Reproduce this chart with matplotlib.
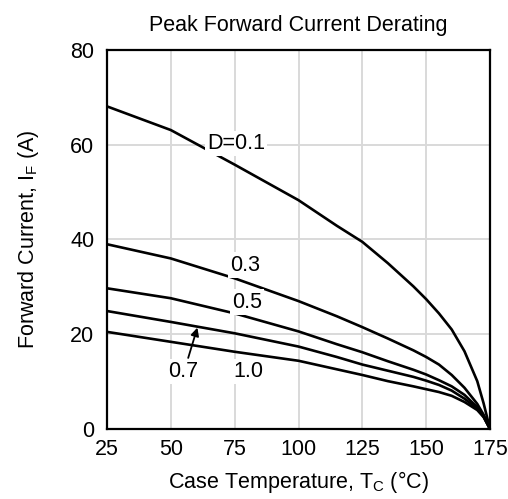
import numpy as np
import matplotlib
matplotlib.use("Agg")
import matplotlib.pyplot as plt

plt.rcParams['font.family'] = ['Liberation Sans', 'DejaVu Sans']
plt.rcParams['mathtext.fontset'] = 'custom'
plt.rcParams['mathtext.rm'] = 'Liberation Sans'
plt.rcParams['mathtext.it'] = 'Liberation Sans'

# case temperature (degC)
temp = [25, 50, 75, 100, 115, 125, 135, 145, 150, 155, 160, 165, 170, 172.5, 175]

# peak forward current (A) for each duty cycle
d01 = [68.1, 63.1, 55.8, 48.3, 42.9, 39.5, 35.0, 30.1, 27.4, 24.4, 21.0, 16.4, 10.1, 5.4, 0]
d03 = [39.0, 36.0, 31.8, 27.0, 23.8, 21.5, 19.1, 16.6, 15.2, 13.6, 11.4, 8.7, 5.3, 3.0, 0]
d05 = [29.7, 27.6, 24.4, 20.6, 17.9, 16.2, 14.3, 12.5, 11.5, 10.3, 9.0, 7.2, 4.6, 2.7, 0]
d07 = [24.9, 22.6, 20.2, 17.4, 15.2, 13.6, 12.3, 11.0, 10.2, 9.3, 8.1, 6.4, 4.3, 2.6, 0]
d10 = [20.5, 18.4, 16.3, 14.4, 12.6, 11.4, 10.1, 9.0, 8.4, 7.8, 7.0, 5.7, 4.0, 2.5, 0]

xticks = [25, 50, 75, 100, 125, 150, 175]
yticks = [0, 20, 40, 60, 80]

fig = plt.figure(figsize=(5.08, 4.99), dpi=100)
ax = fig.add_axes([0.2106, 0.1403, 0.7540, 0.7595])

for ys in [d01, d03, d05, d07, d10]:
    ax.plot(temp, ys, color='black', lw=1.9, zorder=3,
            solid_capstyle='round', solid_joinstyle='round')

ax.set_xlim(25, 175)
ax.set_ylim(0, 80)
ax.set_xticks(xticks)
ax.set_yticks(yticks)
ax.tick_params(length=0, labelsize=15.5)
ax.tick_params(axis='x', pad=7)
ax.tick_params(axis='y', pad=9)
ax.grid(True, color='#d9d9d9', lw=1.4, zorder=0)
ax.set_axisbelow(True)
for s in ax.spines.values():
    s.set_linewidth(1.6)

bbox = dict(facecolor='white', edgecolor='none', pad=1.5)
lab = dict(fontsize=15.5, ha='center', va='center', bbox=bbox, zorder=4)
ax.text(75.5, 60.3, 'D=0.1', **lab)
ax.text(79.1, 34.6, '0.3', **lab)
ax.text(79.8, 26.8, '0.5', **lab)
ax.text(54.8, 12.1, '0.7', **lab)
ax.text(80.2, 12.1, '1.0', **lab)
ax.annotate('', xy=(60.4, 21.4), xytext=(56.8, 15.0),
            arrowprops=dict(arrowstyle='-|>', color='black', lw=1.3,
                            mutation_scale=12, shrinkA=0, shrinkB=0), zorder=4)

ax.set_title('Peak Forward Current Derating', fontsize=15.5, pad=14)
ax.set_xlabel('Case Temperature, T$_\\mathrm{C}$ (°C)', fontsize=15.5, labelpad=7)
ax.set_ylabel('Forward Current, I$_\\mathrm{F}$ (A)', fontsize=15.5, labelpad=21)

fig.savefig('out.png', dpi=100)
